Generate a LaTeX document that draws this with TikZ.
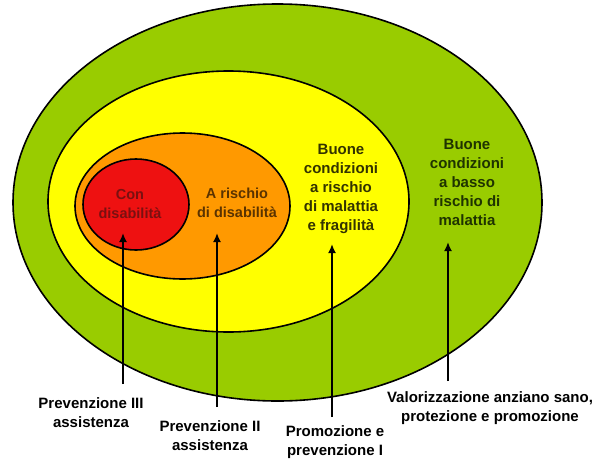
\documentclass[tikz,border=0pt]{standalone}
\usepackage{fontspec}
\setmainfont{Liberation Sans}
\usetikzlibrary{arrows.meta}
\definecolor{cgreen}{HTML}{99CC00}
\definecolor{cyellow}{HTML}{FFFF00}
\definecolor{corange}{HTML}{FF9900}
\definecolor{cred}{HTML}{EE1111}
\definecolor{tred}{HTML}{7A1010}
\definecolor{torange}{HTML}{5A3300}
\definecolor{tyellow}{HTML}{333300}
\definecolor{tgreen}{HTML}{1F3300}
\tikzset{
  zone/.style={draw=black, line width=1.6pt},
  lbl/.style={align=center, inner sep=0pt, font=\bfseries\fontsize{15}{19}\selectfont},
  inlbl/.style={align=center, inner sep=0pt, font=\bfseries\fontsize{14.5}{18.5}\selectfont},
  uparrow/.style={line width=2pt, -{Latex[length=9pt,width=8pt]}}
}
\begin{document}
\begin{tikzpicture}[x=1pt,y=-1pt]
\useasboundingbox (0,0) rectangle (605,461);
\fill[white] (0,0) rectangle (605,461);
% zones
\draw[zone, fill=cgreen] (277.5,202.5) ellipse [x radius=264.5, y radius=198.5];
\draw[zone, fill=cyellow] (228.5,201.5) ellipse [x radius=180.5, y radius=130.5];
\draw[zone, fill=corange] (182.5,206) ellipse [x radius=107.5, y radius=73];
\draw[zone, fill=cred] (136,204.5) ellipse [x radius=53, y radius=45.5];
% zone labels
\node[inlbl, text=tred] (con) at (130,204) {Con\\disabilità};
\node[inlbl, text=torange] (arisk) at (237,203) {A rischio\\di disabilità};
\node[lbl, text=tyellow] (buone1) at (341,189) {Buone\\condizioni\\a rischio\\di malattia\\e fragilità};
\node[lbl, text=tgreen] (buone2) at (467,182) {Buone\\condizioni\\a basso\\rischio di\\malattia};
% bottom labels
\node[lbl] (prev3) at (91,413) {Prevenzione III\\assistenza};
\node[lbl] (prev2) at (210,436) {Prevenzione II\\assistenza};
\node[lbl] (prom) at (335,442) {Promozione e\\prevenzione I};
\node[lbl] (valo) at (490,408) {Valorizzazione anziano sano,\\protezione e promozione};
% arrow ends
\coordinate (s1) at (123,384); \coordinate (t1) at (123,233);
\coordinate (s2) at (217,407); \coordinate (t2) at (217,233);
\coordinate (s3) at (332,417); \coordinate (t3) at (332,244);
\coordinate (s4) at (448,381); \coordinate (t4) at (448,242);
\draw[uparrow] (s1) -- (t1);
\draw[uparrow] (s2) -- (t2);
\draw[uparrow] (s3) -- (t3);
\draw[uparrow] (s4) -- (t4);
\end{tikzpicture}
\end{document}
